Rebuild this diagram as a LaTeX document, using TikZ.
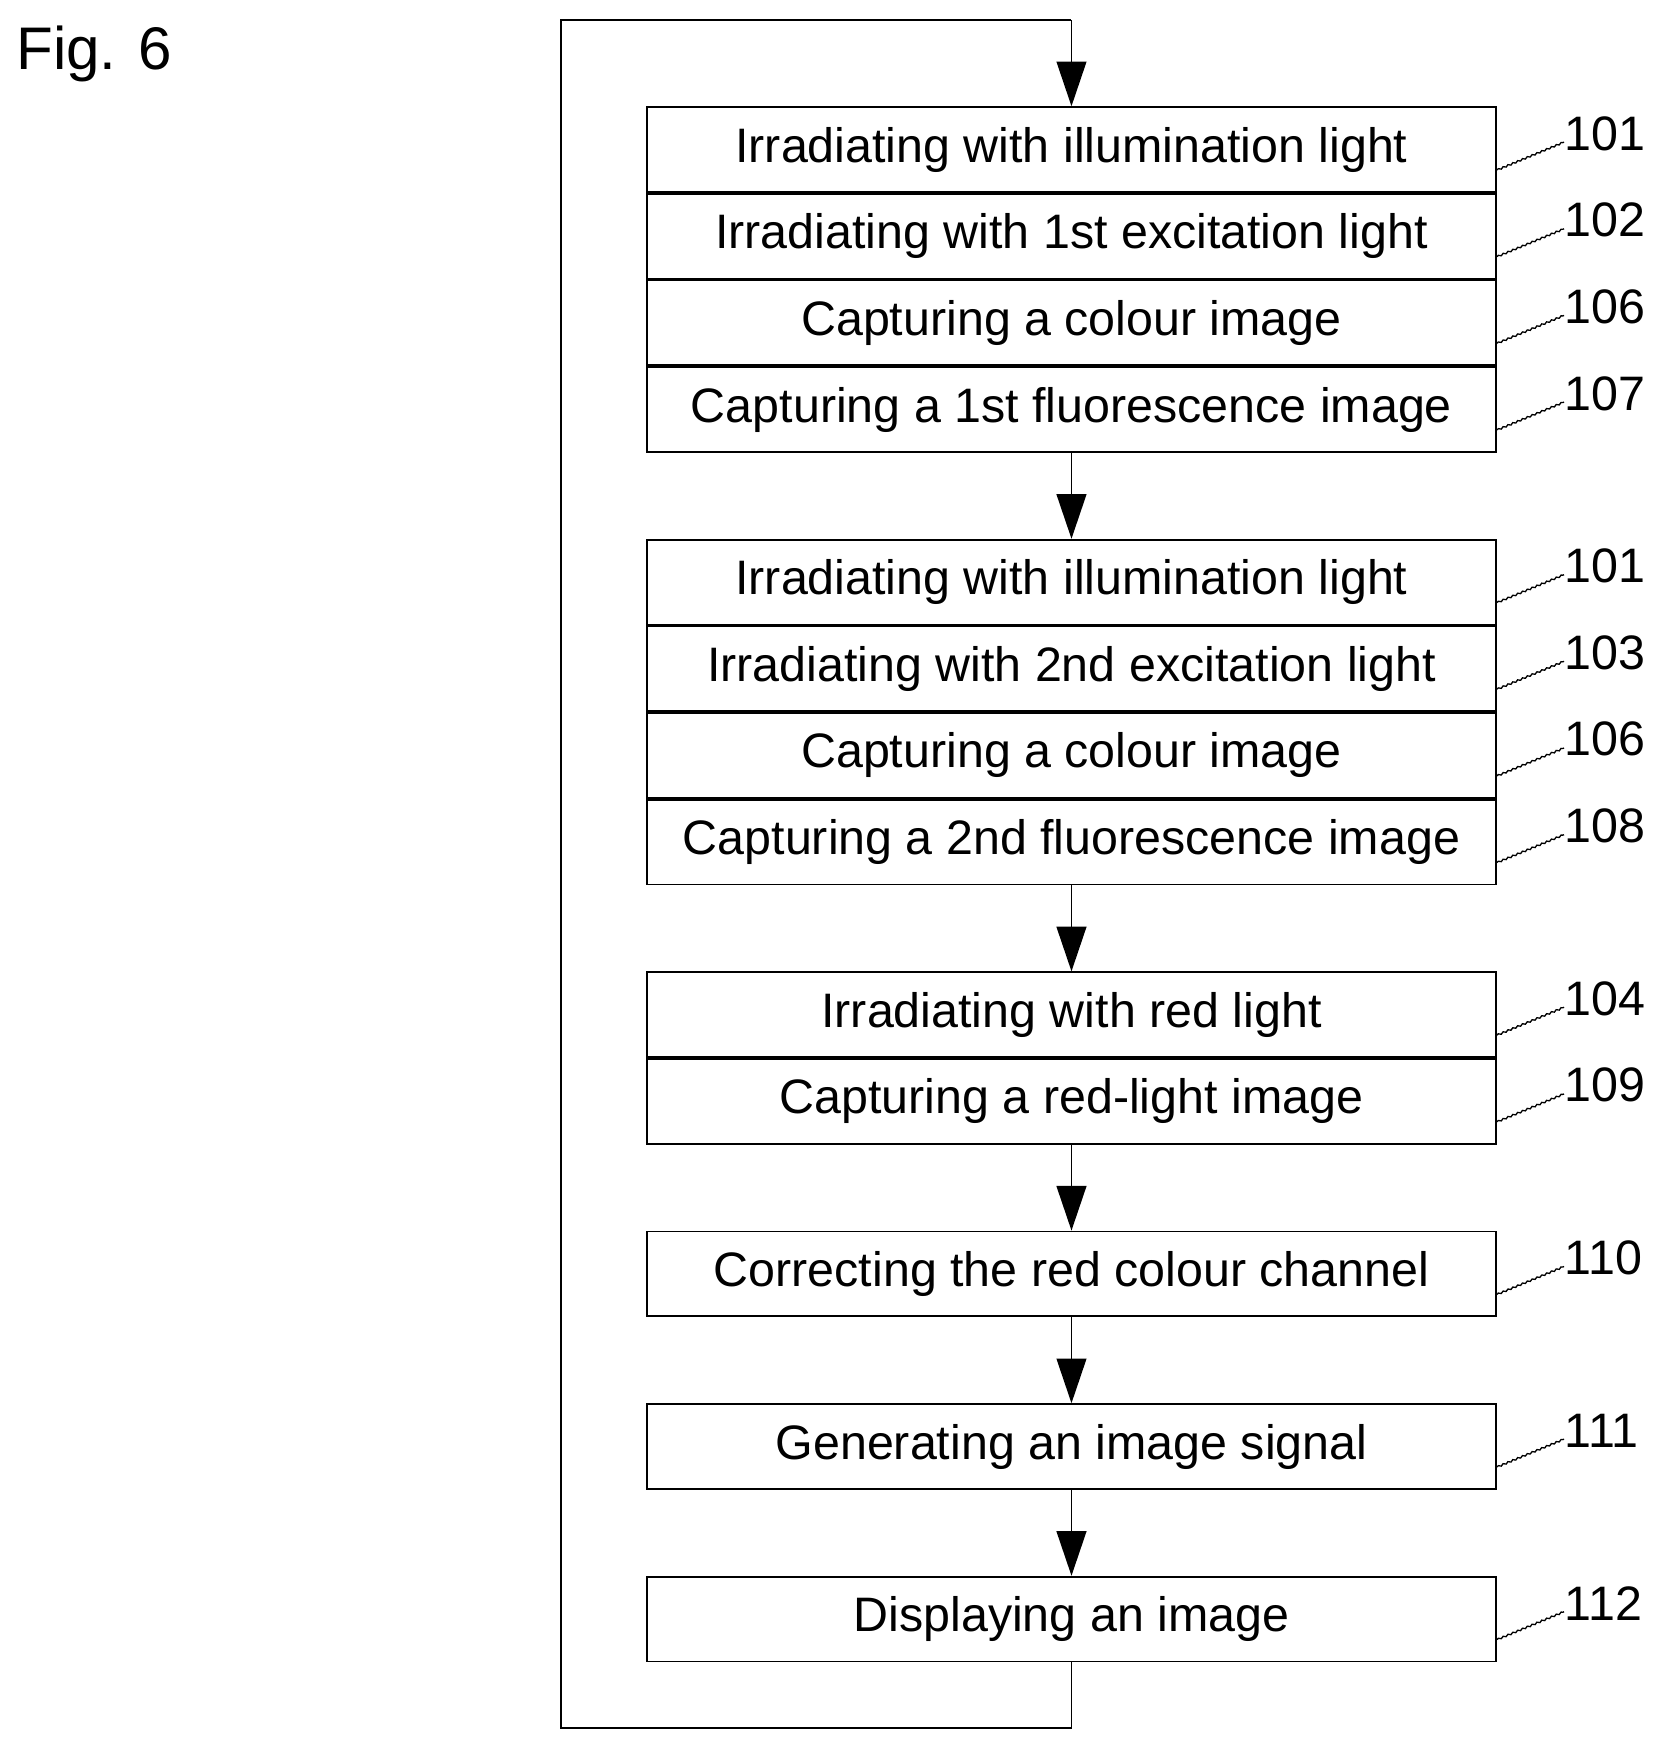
\documentclass[tikz,border=0pt]{standalone}
\usepackage{fontspec}
\setmainfont{Liberation Sans}
\usetikzlibrary{positioning,arrows.meta,decorations.pathmorphing}

\begin{document}
\begin{tikzpicture}[font=\fontsize{37}{44}\selectfont, line width=1.4pt, node distance=0cm]
	\tikzset{stepStyle/.style = {draw, rectangle, minimum width=22.83cm, minimum height=2.28cm, inner sep=0pt}}
	\tikzset{flowStyle/.style = {-{Triangle[length=1.2cm, width=0.8cm]}}}
	\tikzset{leadStyle/.style = {line width=1pt, decorate, decoration={snake, amplitude=0.6pt, segment length=4pt}}}
	\useasboundingbox (0,0) rectangle (45,-47.28);
	\node[anchor=west, font=\fontsize{46}{52}\selectfont] (fig) at (0.3,-1.45) {Fig. 6};
	% group 1
	\node[stepStyle] (s1) at (28.8,-4.02) {Irradiating with illumination light};
	\node[stepStyle, below=of s1] (s2) {Irradiating with 1st excitation light};
	\node[stepStyle, below=of s2] (s3) {Capturing a colour image};
	\node[stepStyle, below=of s3] (s4) {Capturing a 1st fluorescence image};
	% group 2
	\node[stepStyle, below=2.31cm of s4] (s5) {Irradiating with illumination light};
	\node[stepStyle, below=of s5] (s6) {Irradiating with 2nd excitation light};
	\node[stepStyle, below=of s6] (s7) {Capturing a colour image};
	\node[stepStyle, below=of s7] (s8) {Capturing a 2nd fluorescence image};
	% group 3
	\node[stepStyle, below=2.31cm of s8] (s9) {Irradiating with red light};
	\node[stepStyle, below=of s9] (s10) {Capturing a red-light image};
	% single steps
	\node[stepStyle, below=2.31cm of s10] (s11) {Correcting the red colour channel};
	\node[stepStyle, below=2.31cm of s11] (s12) {Generating an image signal};
	\node[stepStyle, below=2.31cm of s12] (s13) {Displaying an image};
	% reference numerals
	\foreach \n/\t in {s1/101, s2/102, s3/106, s4/107, s5/101, s6/103, s7/106, s8/108, s9/104, s10/109, s11/110, s12/111, s13/112}{
		\node[anchor=south west, inner sep=0pt] (l\n) at ([xshift=1.8cm, yshift=-0.05cm]\n.east) {\t};
		\draw[leadStyle] ([yshift=-0.55cm]\n.east) -- ([yshift=0.25cm]l\n.south west);
	}
	% flow
	\draw[flowStyle] (s4) -- (s5);
	\draw[flowStyle] (s8) -- (s9);
	\draw[flowStyle] (s10) -- (s11);
	\draw[flowStyle] (s11) -- (s12);
	\draw[flowStyle] (s12) -- (s13);
	\coordinate (c1) at (28.8,-46.44);
	\coordinate (c2) at (15.09,-46.44);
	\coordinate (c3) at (15.09,-0.54);
	\coordinate (c4) at (28.8,-0.54);
	\draw (s13) -- (c1) -- (c2) -- (c3) -- (c4);
	\draw[flowStyle] (c4) -- (s1);
\end{tikzpicture}
\end{document}
